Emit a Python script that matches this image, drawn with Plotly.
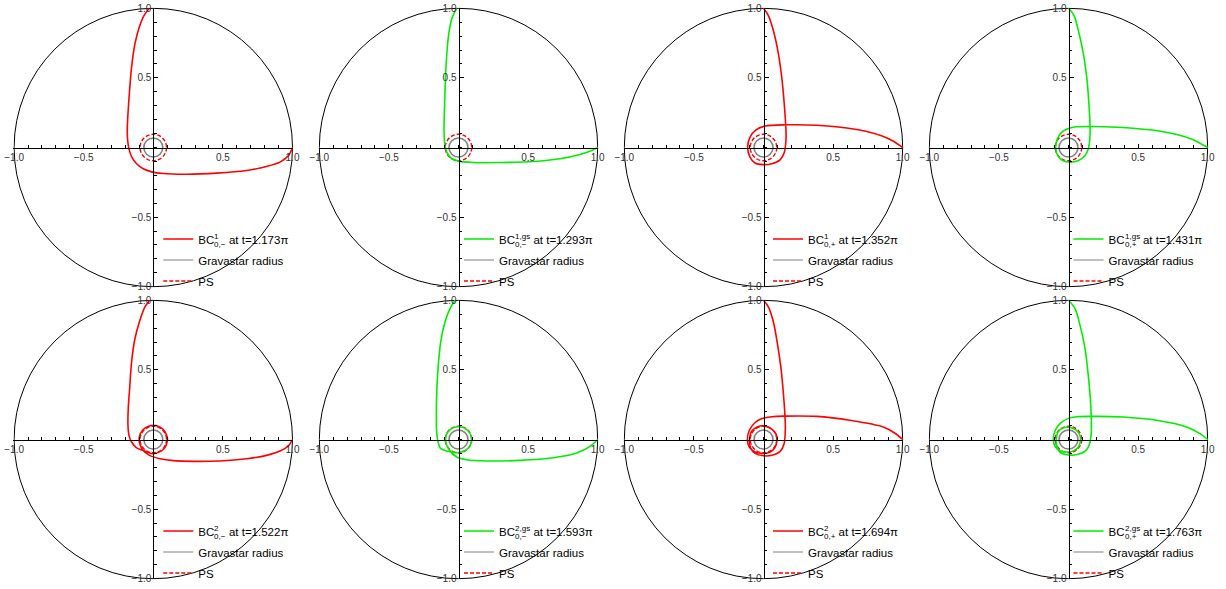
import plotly.graph_objects as go

# ---------------- data ----------------
t_values = ["1.173", "1.293", "1.352", "1.431", "1.522", "1.593", "1.694", "1.763"]
sup_labels = ["1", "1,gs", "1", "1,gs", "2", "2,gs", "2", "2,gs"]
sub_labels = ["0,−", "0,−", "0,+", "0,+", "0,−", "0,−", "0,+", "0,+"]
curve_colors = ["#ff0000", "#00ee00", "#ff0000", "#00ee00",
                "#ff0000", "#00ee00", "#ff0000", "#00ee00"]

gravastar_radius = 0.068
ps_radius = 0.095
boundary_radius = 1.0

tick_vals = [-1.0, -0.5, 0.5, 1.0]
tick_text = ["−1.0", "−0.5", "0.5", "1.0"]

# panel 1: BC^1_{0,-}
c1_x = [-0.03, -0.067, -0.101, -0.132, -0.156, -0.172, -0.182, -0.187, -0.184, -0.175,
        -0.156, -0.120, -0.072, -0.012, 0.072, 0.239, 0.455, 0.670, 0.814, 0.910, 0.970, 1.0]
c1_y = [0.999, 0.948, 0.864, 0.744, 0.577, 0.386, 0.242, 0.122, 0.050, -0.010,
        -0.065, -0.117, -0.153, -0.175, -0.187, -0.192, -0.184, -0.165, -0.136, -0.105, -0.060, 0.0]

# panel 2: BC^{1,gs}_{0,-}
c2_x = [-0.013, -0.049, -0.073, -0.090, -0.099, -0.104, -0.102, -0.095, -0.078, -0.049,
        0.0, 0.107, 0.298, 0.538, 0.729, 0.873, 0.957, 1.0]
c2_y = [1.0, 0.924, 0.793, 0.577, 0.338, 0.146, 0.062, 0.002, -0.045, -0.079,
        -0.098, -0.108, -0.108, -0.101, -0.081, -0.050, -0.022, 0.0]

# panel 3: BC^1_{0,+}
c3_x = [0.0, 0.035, 0.071, 0.107, 0.131, 0.147, 0.159, 0.162, 0.150, 0.119, 0.059, 0.0,
        -0.061, -0.097, -0.114, -0.097, -0.054, 0.011, 0.166, 0.382, 0.502, 0.622, 0.742,
        0.862, 0.933, 1.0]
c3_y = [1.0, 0.948, 0.840, 0.673, 0.505, 0.338, 0.170, 0.074, -0.034, -0.089, -0.117, -0.123,
        -0.111, -0.069, 0.0, 0.074, 0.127, 0.154, 0.163, 0.160, 0.151, 0.137, 0.115,
        0.079, 0.045, 0.0]

# panel 4: BC^{1,gs}_{0,+}
c4_x = [0.0, 0.040, 0.071, 0.107, 0.131, 0.145, 0.154, 0.154, 0.142, 0.119, 0.071, 0.011,
        -0.042, -0.078, -0.092, -0.080, -0.042, 0.023, 0.154, 0.346, 0.586, 0.778, 0.897,
        0.945, 1.0]
c4_y = [1.0, 0.948, 0.840, 0.673, 0.505, 0.338, 0.170, 0.074, -0.010, -0.057, -0.093, -0.105,
        -0.093, -0.057, 0.0, 0.062, 0.115, 0.144, 0.151, 0.146, 0.127, 0.093, 0.055,
        0.030, 0.0]

# panel 5: BC^2_{0,-}
c5_x = [-0.025, -0.060, -0.096, -0.132, -0.156, -0.170, -0.180, -0.182, -0.175, -0.156,
        -0.120, -0.066, 0.0, 0.072, 0.102, 0.072, 0.0, -0.072, -0.102, -0.075,
        -0.030, 0.048, 0.144, 0.287, 0.479, 0.670, 0.814, 0.910, 0.970, 1.0]
c5_y = [1.0, 0.952, 0.856, 0.724, 0.557, 0.365, 0.222, 0.102, 0.030, -0.018,
        -0.060, -0.080, -0.102, -0.072, 0.0, 0.072, 0.102, 0.072, 0.0, -0.075,
        -0.112, -0.138, -0.152, -0.157, -0.154, -0.138, -0.114, -0.083, -0.047, 0.0]

# panel 6: BC^{2,gs}_{0,-}
c6_x = [-0.025, -0.061, -0.097, -0.128, -0.147, -0.157, -0.159, -0.157, -0.147, -0.128,
        -0.085, -0.040, 0.0, 0.066, 0.094, 0.066, 0.0, -0.066, -0.093, -0.068,
        -0.013, 0.060, 0.202, 0.442, 0.681, 0.849, 0.945, 1.0]
c6_y = [1.0, 0.940, 0.844, 0.700, 0.509, 0.317, 0.150, 0.054, -0.018, -0.066,
        -0.082, -0.092, -0.094, -0.066, 0.0, 0.066, 0.092, 0.066, 0.0, -0.072,
        -0.126, -0.145, -0.154, -0.150, -0.131, -0.097, -0.049, 0.0]

# panel 7: BC^2_{0,+}
c7_x = [0.0, 0.035, 0.071, 0.102, 0.126, 0.142, 0.154, 0.157, 0.148, 0.120, 0.060, 0.0,
        -0.060, -0.092, -0.100, -0.085, -0.045, 0.0, 0.060, 0.092, 0.096, 0.082, 0.048, 0.0,
        -0.060, -0.102, -0.116, -0.100, -0.060, -0.010, 0.060, 0.157, 0.382, 0.622, 0.861, 0.945, 1.0]
c7_y = [1.0, 0.952, 0.844, 0.677, 0.509, 0.341, 0.174, 0.078, -0.030, -0.085, -0.113, -0.117,
        -0.100, -0.060, 0.0, 0.060, 0.090, 0.098, 0.075, 0.035, -0.010, -0.058, -0.090, -0.100,
        -0.090, -0.055, 0.0, 0.070, 0.122, 0.150, 0.164, 0.168, 0.166, 0.138, 0.090, 0.045, 0.0]

# panel 8: BC^{2,gs}_{0,+}
c8_x = [0.0, 0.047, 0.083, 0.119, 0.142, 0.157, 0.164, 0.164, 0.152, 0.122, 0.062, 0.0,
        -0.058, -0.082, -0.088, -0.075, -0.040, 0.0, 0.055, 0.082, 0.086, 0.072, 0.040, 0.0,
        -0.058, -0.096, -0.109, -0.094, -0.055, -0.005, 0.060, 0.166, 0.394, 0.633, 0.849, 0.945, 1.0]
c8_y = [1.0, 0.940, 0.820, 0.653, 0.461, 0.293, 0.150, 0.054, -0.030, -0.082, -0.108, -0.111,
        -0.094, -0.055, 0.0, 0.055, 0.082, 0.088, 0.068, 0.030, -0.010, -0.052, -0.080, -0.090,
        -0.082, -0.050, 0.0, 0.068, 0.120, 0.150, 0.163, 0.166, 0.162, 0.138, 0.090, 0.042, 0.0]

curves_x = [c1_x, c2_x, c3_x, c4_x, c5_x, c6_x, c7_x, c8_x]
curves_y = [c1_y, c2_y, c3_y, c4_y, c5_y, c6_y, c7_y, c8_y]

# ---------------- layout geometry (pixels) ----------------
W, H = 1226, 589
COL_CX = [153.3, 458.5, 763.5, 1068.5]
ROW_CY = [147.5, 439.5]
R_PX = 139.2
PAD = 1.005
LEG_DX = [5.0, 0.5, 4.5, 0.0]   # legend left offset from panel centre (px), per column
LEG_TOP = 77.0                  # legend top offset below panel centre (px)
ROW1_C = 15.5                   # first legend row centre below legend top (px)
TEXT_GAP = 40.0                 # plotly legend text start after legend left (px)
BC_W = 16.0                     # width of "BC" at legend font size (px)
LEG_FS = 11.5
SCRIPT_FS = 8.05

FONT = "Liberation Sans, Arial, sans-serif"

fig = go.Figure()
shapes = []
annotations = []
layout_extra = {}

for i in range(8):
    r, c = divmod(i, 4)
    cx, cy = COL_CX[c], ROW_CY[r]
    n = i + 1
    xa = "x" if n == 1 else f"x{n}"
    ya = "y" if n == 1 else f"y{n}"
    xkey = "xaxis" if n == 1 else f"xaxis{n}"
    ykey = "yaxis" if n == 1 else f"yaxis{n}"
    lkey = "legend" if n == 1 else f"legend{n}"

    half = R_PX * PAD
    xdom = [(cx - half) / W, (cx + half) / W]
    ydom = [1 - (cy + half) / H, 1 - (cy - half) / H]

    common = dict(
        range=[-PAD, PAD], showgrid=False, zeroline=False,
        showline=True, linecolor="black", linewidth=1,
        tickmode="array", tickvals=tick_vals, ticktext=tick_text,
        ticks="inside", ticklen=4, tickcolor="black", tickwidth=1,
        tickfont=dict(size=10, color="#333", family=FONT),
        minor=dict(dtick=0.1, tick0=0, ticks="inside", ticklen=2.5,
                   tickcolor="black", tickwidth=1, showgrid=False),
        fixedrange=True, anchor="free",
    )
    layout_extra[xkey] = dict(common, domain=xdom, position=1 - cy / H)
    layout_extra[ykey] = dict(common, domain=ydom, position=cx / W)

    leg_left = cx + LEG_DX[c]
    leg_top = cy + LEG_TOP
    layout_extra[lkey] = dict(
        x=leg_left / W, y=1 - leg_top / H,
        xanchor="left", yanchor="top",
        bgcolor="rgba(0,0,0,0)", borderwidth=0,
        font=dict(size=LEG_FS, family=FONT, color="black"),
        tracegroupgap=2, itemwidth=30,
    )

    # stacked super/subscript: reserve room with an invisible script, then draw both
    wider = sup_labels[i] if len(sup_labels[i]) >= len(sub_labels[i]) else sub_labels[i]
    label = (f"BC<sup><span style='color:rgba(0,0,0,0)'>{wider}</span></sup>"
             f" at t={t_values[i]}π")
    row_c = leg_top + ROW1_C
    sx = (leg_left + TEXT_GAP + BC_W) / W
    annotations.append(dict(
        text=sup_labels[i], x=sx, y=1 - (row_c - 3.4) / H, xref="paper", yref="paper",
        xanchor="left", yanchor="middle", showarrow=False, borderpad=0, borderwidth=0,
        font=dict(size=SCRIPT_FS, family=FONT, color="black"),
    ))
    annotations.append(dict(
        text=sub_labels[i], x=sx, y=1 - (row_c + 4.2) / H, xref="paper", yref="paper",
        xanchor="left", yanchor="middle", showarrow=False, borderpad=0, borderwidth=0,
        font=dict(size=SCRIPT_FS, family=FONT, color="black"),
    ))

    fig.add_trace(go.Scatter(
        x=curves_x[i], y=curves_y[i], mode="lines",
        line=dict(color=curve_colors[i], width=1.6, shape="spline", smoothing=0.9),
        name=label, xaxis=xa, yaxis=ya, legend=lkey, legendgroup=f"a{n}",
        hoverinfo="skip",
    ))
    fig.add_trace(go.Scatter(
        x=[None], y=[None], mode="lines",
        line=dict(color="#808080", width=1.2),
        name="Gravastar radius", xaxis=xa, yaxis=ya, legend=lkey, legendgroup=f"b{n}",
    ))
    fig.add_trace(go.Scatter(
        x=[None], y=[None], mode="lines",
        line=dict(color="#ff0000", width=1.4, dash="4px,2px"),
        name="PS", xaxis=xa, yaxis=ya, legend=lkey, legendgroup=f"c{n}",
    ))

    for rad, col, wid, dash in [
        (boundary_radius, "black", 1, "solid"),
        (gravastar_radius, "#808080", 1.6, "solid"),
        (ps_radius, "#ff0000", 1.4, "4px,2px"),
    ]:
        shapes.append(dict(
            type="circle", xref=xa, yref=ya, x0=-rad, x1=rad, y0=-rad, y1=rad,
            line=dict(color=col, width=wid, dash=dash), layer="below",
        ))

fig.update_layout(
    width=W, height=H, margin=dict(l=0, r=0, t=0, b=0, autoexpand=False),
    paper_bgcolor="white", plot_bgcolor="rgba(0,0,0,0)",
    showlegend=True, shapes=shapes, annotations=annotations, font=dict(family=FONT),
    hovermode=False,
    **layout_extra,
)

fig.write_html("out.html", config={"displayModeBar": False},
               post_script="document.body.style.margin='0px';")
